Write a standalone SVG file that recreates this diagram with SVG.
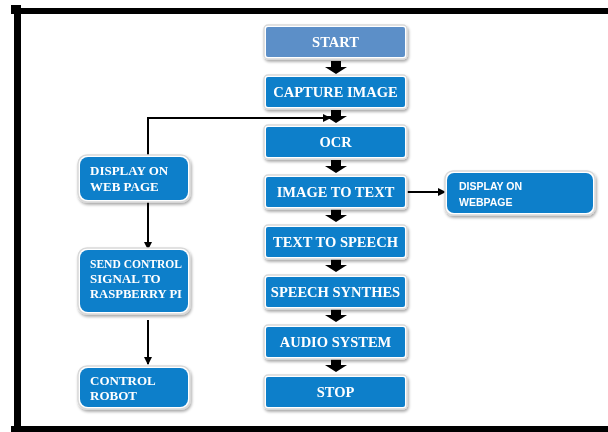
<svg xmlns="http://www.w3.org/2000/svg" width="608" height="432" viewBox="0 0 608 432">
<style>
.main{fill:#0f7fca;}
.start{fill:#5b8fc8;}
.halo{fill:#ffffff;stroke:#d9d9d9;stroke-width:1.5;}
.t{font-family:"Liberation Serif","Times New Roman",serif;font-weight:bold;fill:#ffffff;font-size:14.5px;text-anchor:middle;}
.tl{font-family:"Liberation Serif","Times New Roman",serif;font-weight:bold;fill:#ffffff;font-size:13px;}
.ts{font-family:"Liberation Sans",Arial,sans-serif;font-weight:bold;fill:#ffffff;font-size:10.5px;}
.line{stroke:#000;stroke-width:2;fill:none;}
.blk{fill:#000;}
.border{fill:#000;}
</style>
<defs>
<filter id="sh" x="-10%" y="-20%" width="120%" height="150%">
<feGaussianBlur in="SourceAlpha" stdDeviation="1.5"/>
<feOffset dx="1" dy="2" result="b"/>
<feComponentTransfer><feFuncA type="linear" slope="0.35"/></feComponentTransfer>
<feMerge><feMergeNode/><feMergeNode in="SourceGraphic"/></feMerge>
</filter>
<marker id="ah" markerWidth="8" markerHeight="8" refX="7" refY="4" orient="auto" markerUnits="userSpaceOnUse">
<path d="M0,0 L8,4 L0,8 Z" fill="#000"/>
</marker>
</defs>
<rect width="608" height="432" fill="#ffffff"/>
<g id="frame">
<rect class="border" x="11" y="8" width="597" height="6"/>
<rect class="border" x="11" y="5" width="10" height="9"/>
<rect class="border" x="14" y="5" width="7" height="427"/>
<rect class="border" x="11" y="426" width="597" height="6"/>
</g>
<g id="connectors">
<path class="blk" d="M331,61 h10 v6 h6 l-11,7 l-11,-7 h6 z"/>
<path class="blk" d="M331,110 h10 v6 h6 l-11,7 l-11,-7 h6 z"/>
<path class="blk" d="M331,160 h10 v6 h6 l-11,7 l-11,-7 h6 z"/>
<path class="blk" d="M331,209 h10 v6 h6 l-11,7 l-11,-7 h6 z"/>
<path class="blk" d="M331,259 h10 v6 h6 l-11,7 l-11,-7 h6 z"/>
<path class="blk" d="M331,309 h10 v6 h6 l-11,7 l-11,-7 h6 z"/>
<path class="blk" d="M331,359 h10 v6 h6 l-11,7 l-11,-7 h6 z"/>
<path class="line" d="M148,157 V118 H330" marker-end="url(#ah)"/>
<path class="line" d="M148,200 V249" marker-end="url(#ah)"/>
<path class="line" d="M148,320 V364" marker-end="url(#ah)"/>
<path class="line" d="M407,192 H445" marker-end="url(#ah)"/>
</g>
<g id="start" filter="url(#sh)"><rect class="halo" x="264" y="25" width="143" height="34" rx="4"/><rect class="start" x="266" y="27" width="139" height="30" rx="2"/><text class="t" x="335.5" y="47">START</text></g>
<g id="capture" filter="url(#sh)"><rect class="halo" x="264" y="75" width="143" height="34" rx="4"/><rect class="main" x="266" y="77" width="139" height="30" rx="2"/><text class="t" x="335.5" y="97">CAPTURE IMAGE</text></g>
<g id="ocr" filter="url(#sh)"><rect class="halo" x="264" y="125" width="143" height="34" rx="4"/><rect class="main" x="266" y="127" width="139" height="30" rx="2"/><text class="t" x="335.5" y="147">OCR</text></g>
<g id="img2text" filter="url(#sh)"><rect class="halo" x="264" y="175" width="143" height="34" rx="4"/><rect class="main" x="266" y="177" width="139" height="30" rx="2"/><text class="t" x="335.5" y="197">IMAGE TO TEXT</text></g>
<g id="tts" filter="url(#sh)"><rect class="halo" x="264" y="225" width="143" height="34" rx="4"/><rect class="main" x="266" y="227" width="139" height="30" rx="2"/><text class="t" x="335.5" y="247">TEXT TO SPEECH</text></g>
<g id="synth" filter="url(#sh)"><rect class="halo" x="264" y="275" width="143" height="34" rx="4"/><rect class="main" x="266" y="277" width="139" height="30" rx="2"/><text class="t" x="335.5" y="297">SPEECH SYNTHES</text></g>
<g id="audio" filter="url(#sh)"><rect class="halo" x="264" y="325" width="143" height="34" rx="4"/><rect class="main" x="266" y="327" width="139" height="30" rx="2"/><text class="t" x="335.5" y="347">AUDIO SYSTEM</text></g>
<g id="stop" filter="url(#sh)"><rect class="halo" x="264" y="375" width="143" height="34" rx="4"/><rect class="main" x="266" y="377" width="139" height="30" rx="2"/><text class="t" x="335.5" y="397">STOP</text></g>
<g id="webpage-left" filter="url(#sh)"><rect class="halo" x="78" y="155" width="112" height="47" rx="9"/><rect class="main" x="80" y="157" width="108" height="43" rx="8"/><text class="tl" x="90" y="175">DISPLAY ON</text><text class="tl" x="90" y="191">WEB PAGE</text></g>
<g id="send" filter="url(#sh)"><rect class="halo" x="78" y="248" width="112" height="66" rx="9"/><rect class="main" x="80" y="250" width="108" height="62" rx="8"/><text class="tl" x="90" y="268" textLength="92" lengthAdjust="spacingAndGlyphs">SEND CONTROL</text><text class="tl" x="90" y="283">SIGNAL TO</text><text class="tl" x="90" y="298" textLength="92" lengthAdjust="spacingAndGlyphs">RASPBERRY PI</text></g>
<g id="robot" filter="url(#sh)"><rect class="halo" x="78" y="366" width="112" height="43" rx="9"/><rect class="main" x="80" y="368" width="108" height="39" rx="8"/><text class="tl" x="90" y="385">CONTROL</text><text class="tl" x="90" y="400">ROBOT</text></g>
<g id="webpage-right" filter="url(#sh)"><rect class="halo" x="445" y="171" width="150" height="44" rx="8"/><rect class="main" x="447" y="173" width="146" height="40" rx="7"/><text class="ts" x="459" y="190">DISPLAY ON</text><text class="ts" x="459" y="206">WEBPAGE</text></g>
</svg>
